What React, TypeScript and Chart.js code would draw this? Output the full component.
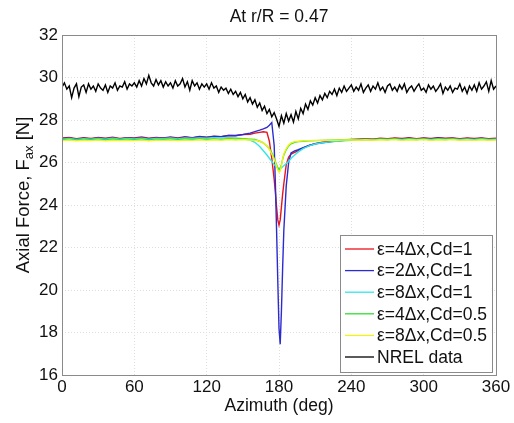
import React, { useEffect, useRef } from "react";
import { Chart, registerables } from "chart.js";

Chart.register(...registerables);

const TITLE = "At r/R = 0.47";
const X_LABEL = "Azimuth (deg)";
const Y_LABEL_MAIN = "Axial Force, F";
const Y_LABEL_SUB = "ax";
const Y_LABEL_END = " [N]";

const X_TICKS = [0, 60, 120, 180, 240, 300, 360];
const Y_TICKS = [16, 18, 20, 22, 24, 26, 28, 30, 32];

const SERIES_LABELS = [
  "ε=4Δx,Cd=1",
  "ε=2Δx,Cd=1",
  "ε=8Δx,Cd=1",
  "ε=4Δx,Cd=0.5",
  "ε=8Δx,Cd=0.5",
  "NREL data",
];
const SERIES_COLORS = ["#e8141c", "#2b2bd0", "#33e6e6", "#2fe02f", "#f2f21a", "#000000"];

const AZ_CFD = [
  0, 6, 12, 18, 24, 30, 36, 42, 48, 54, 60, 66, 72, 78, 84, 90, 96, 102, 108, 114, 120, 126, 132, 138, 144, 150, 156,
  160, 164, 167, 170, 172, 174, 176, 177, 178, 179, 180, 181, 182, 183, 184, 186, 188, 190, 193, 196, 200, 205, 210,
  216, 222, 228, 234, 240, 246, 252, 258, 264, 270, 276, 282, 288, 294, 300, 306, 312, 318, 324, 330, 336, 342, 348, 354, 360,
];

const EPS4_CD1 = [
  27.15, 27.18, 27.12, 27.17, 27.13, 27.18, 27.14, 27.19, 27.13, 27.17, 27.15, 27.2, 27.14, 27.18, 27.16, 27.2, 27.15, 27.21, 27.17, 27.22, 27.19, 27.24, 27.22, 27.27, 27.26, 27.31, 27.33,
  27.38, 27.42, 27.45, 27.42, 27.0, 26.2, 25.2, 24.6, 23.9, 23.3, 23.05, 23.3, 23.9, 24.5, 25.0, 25.9, 26.25, 26.4, 26.48, 26.56, 26.68, 26.8, 26.88,
  26.95, 26.98, 27.03, 27.05, 27.08, 27.1, 27.12, 27.1, 27.14, 27.12, 27.15, 27.13, 27.17, 27.12, 27.16, 27.13, 27.17, 27.14, 27.16, 27.12, 27.15, 27.13, 27.16, 27.12, 27.14,
];

const EPS2_CD1 = [
  27.12, 27.15, 27.1, 27.14, 27.11, 27.15, 27.12, 27.16, 27.11, 27.15, 27.13, 27.17, 27.12, 27.16, 27.14, 27.18, 27.13, 27.19, 27.16, 27.21, 27.18, 27.23, 27.22, 27.27, 27.27, 27.32, 27.38,
  27.45, 27.52, 27.58, 27.65, 27.75, 27.88, 26.8, 25.0, 22.8, 20.4, 18.2, 17.45, 19.0, 21.0, 22.8, 24.9, 26.0, 26.45, 26.55, 26.6, 26.7, 26.8, 26.88,
  26.93, 26.97, 27.01, 27.04, 27.07, 27.09, 27.1, 27.08, 27.12, 27.1, 27.13, 27.11, 27.14, 27.1, 27.14, 27.11, 27.15, 27.12, 27.14, 27.1, 27.13, 27.11, 27.14, 27.1, 27.12,
];

const EPS8_CD1 = [
  27.1, 27.13, 27.09, 27.12, 27.1, 27.13, 27.1, 27.14, 27.1, 27.13, 27.11, 27.14, 27.1, 27.13, 27.12, 27.15, 27.11, 27.15, 27.13, 27.16, 27.14, 27.17, 27.15, 27.17, 27.15, 27.12, 27.05,
  26.95, 26.75, 26.55, 26.35, 26.2, 26.05, 25.9, 25.85, 25.8, 25.75, 25.72, 25.72, 25.75, 25.8, 25.85, 25.95, 26.05, 26.2, 26.35, 26.5, 26.65, 26.78, 26.87,
  26.93, 26.97, 27.0, 27.02, 27.05, 27.07, 27.08, 27.07, 27.1, 27.08, 27.11, 27.09, 27.12, 27.08, 27.11, 27.09, 27.12, 27.1, 27.11, 27.08, 27.11, 27.09, 27.12, 27.08, 27.1,
];

const EPS4_CD05 = [
  27.07, 27.1, 27.06, 27.09, 27.07, 27.1, 27.06, 27.1, 27.07, 27.09, 27.07, 27.1, 27.06, 27.09, 27.08, 27.1, 27.07, 27.1, 27.08, 27.11, 27.08, 27.11, 27.09, 27.12, 27.1, 27.12, 27.1,
  27.08, 27.0, 26.92, 26.78, 26.65, 26.45, 26.2, 26.05, 25.9, 25.75, 25.65, 25.7, 25.9, 26.15, 26.35, 26.6, 26.78, 26.88, 26.95, 26.98, 27.0, 27.02, 27.03,
  27.04, 27.05, 27.06, 27.07, 27.08, 27.07, 27.09, 27.07, 27.1, 27.08, 27.1, 27.07, 27.1, 27.08, 27.1, 27.07, 27.1, 27.08, 27.1, 27.07, 27.09, 27.07, 27.1, 27.07, 27.09,
];

const EPS8_CD05 = [
  27.03, 27.06, 27.02, 27.05, 27.03, 27.06, 27.02, 27.05, 27.03, 27.05, 27.03, 27.06, 27.02, 27.05, 27.04, 27.06, 27.03, 27.06, 27.04, 27.07, 27.04, 27.07, 27.05, 27.08, 27.06, 27.08, 27.06,
  27.05, 27.0, 26.92, 26.78, 26.62, 26.4, 26.15, 26.0, 25.82, 25.65, 25.55, 25.6, 25.85, 26.15, 26.4, 26.65, 26.82, 26.92, 26.98, 27.0, 27.02, 27.03, 27.04,
  27.04, 27.05, 27.05, 27.06, 27.06, 27.05, 27.07, 27.05, 27.07, 27.06, 27.08, 27.05, 27.07, 27.06, 27.08, 27.05, 27.07, 27.06, 27.08, 27.05, 27.07, 27.05, 27.07, 27.05, 27.06,
];

const AZ_NREL = [
  0, 2, 4, 6, 8, 10, 12, 14, 16, 18,
  20, 22, 24, 26, 28, 30, 32, 34, 36, 38,
  40, 42, 44, 46, 48, 50, 52, 54, 56, 58,
  60, 62, 64, 66, 68, 70, 72, 74, 76, 78,
  80, 82, 84, 86, 88, 90, 92, 94, 96, 98,
  100, 102, 104, 106, 108, 110, 112, 114, 116, 118,
  120, 122, 124, 126, 128, 130, 132, 134, 136, 138,
  140, 142, 144, 146, 148, 150, 152, 154, 156, 158,
  160, 162, 164, 166, 168, 170, 172, 174, 176, 178,
  180, 182, 184, 186, 188, 190, 192, 194, 196, 198,
  200, 202, 204, 206, 208, 210, 212, 214, 216, 218,
  220, 222, 224, 226, 228, 230, 232, 234, 236, 238,
  240, 242, 244, 246, 248, 250, 252, 254, 256, 258,
  260, 262, 264, 266, 268, 270, 272, 274, 276, 278,
  280, 282, 284, 286, 288, 290, 292, 294, 296, 298,
  300, 302, 304, 306, 308, 310, 312, 314, 316, 318,
  320, 322, 324, 326, 328, 330, 332, 334, 336, 338,
  340, 342, 344, 346, 348, 350, 352, 354, 356, 358,
  360,
];

const NREL = [
  29.55, 29.75, 29.45, 29.6, 29.05, 29.5, 29.7, 29.1, 29.55, 29.65,
  29.3, 29.7, 29.45, 29.6, 29.35, 29.7, 29.5, 29.4, 29.65, 29.3,
  29.6, 29.5, 29.75, 29.4, 29.6, 29.55, 29.8, 29.45, 29.7, 29.6,
  29.75, 29.55, 29.85, 29.6, 29.95, 29.7, 30.1, 29.75, 29.6, 29.9,
  29.65, 29.85, 29.55, 29.8, 29.6, 29.75, 29.5, 29.85, 29.6, 29.7,
  29.95, 29.55, 29.8, 29.4, 29.85, 29.6, 29.75, 29.45, 29.7, 29.55,
  29.7, 29.45, 29.75, 29.5, 29.6, 29.3, 29.55, 29.4, 29.5, 29.25,
  29.45, 29.2, 29.35, 29.1, 29.3, 29.0, 29.2, 28.85, 29.05, 28.75,
  28.95, 28.6, 28.8, 28.45, 28.65, 28.3, 28.5, 28.15, 28.35, 28.05,
  27.7, 28.2, 27.85, 28.3, 27.95, 28.25, 27.9, 28.4, 28.05, 28.55,
  28.3, 28.75, 28.5, 28.9, 28.7, 29.05, 28.8, 29.15, 28.95, 29.25,
  29.05, 29.35, 29.2, 29.45, 29.15, 29.5, 29.3, 29.6, 29.35, 29.5,
  29.65, 29.35, 29.55, 29.4, 29.7, 29.3, 29.5, 29.65, 29.35, 29.6,
  29.45, 29.75, 29.4, 29.55, 29.3, 29.6, 29.7, 29.4, 29.55, 29.35,
  29.65, 29.45, 29.7, 29.3, 29.5, 29.6, 29.35, 29.55, 29.7, 29.4,
  29.5, 29.3, 29.65, 29.45, 29.6, 29.35, 29.5, 29.7, 29.25, 29.55,
  29.4, 29.6, 29.3, 29.5, 29.45, 29.7, 29.35, 29.55, 29.25, 29.6,
  29.4, 29.65, 29.35, 29.75, 29.45, 29.6, 29.8, 29.35, 29.85, 29.45,
  29.6,
];

const FONT = "'Liberation Sans', Arial, Helvetica, sans-serif";

function pts(xs: number[], ys: number[]) {
  return xs.map((x, i) => ({ x, y: ys[i] }));
}

const decorPlugin = {
  id: "decor",
  afterDatasetsDraw(chart: any) {
    const { ctx, chartArea: a } = chart;
    ctx.save();
    ctx.strokeStyle = "#8a8a8a";
    ctx.lineWidth = 1;
    ctx.strokeRect(Math.round(a.left) + 0.5, Math.round(a.top) + 0.5, Math.round(a.right - a.left), Math.round(a.bottom - a.top));
    ctx.restore();
  },
  afterDraw(chart: any) {
    const { ctx, chartArea: a } = chart;
    const cx = (a.left + a.right) / 2;
    ctx.save();
    ctx.fillStyle = "#111";
    ctx.textAlign = "center";
    ctx.textBaseline = "alphabetic";
    ctx.font = `17.5px ${FONT}`;
    ctx.fillText(TITLE, cx, 22);
    ctx.fillText(X_LABEL, cx, 411);

    // y label with subscript
    const mainFont = `18.5px ${FONT}`;
    const subFont = `13px ${FONT}`;
    ctx.font = mainFont;
    const w1 = ctx.measureText(Y_LABEL_MAIN).width;
    const w3 = ctx.measureText(Y_LABEL_END).width;
    ctx.font = subFont;
    const w2 = ctx.measureText(Y_LABEL_SUB).width;
    const total = w1 + w2 + w3;
    ctx.translate(29, 195);
    ctx.rotate(-Math.PI / 2);
    ctx.textAlign = "left";
    const x0 = -total / 2;
    ctx.font = mainFont;
    ctx.fillText(Y_LABEL_MAIN, x0, 0);
    ctx.font = subFont;
    ctx.fillText(Y_LABEL_SUB, x0 + w1, 4);
    ctx.font = mainFont;
    ctx.fillText(Y_LABEL_END, x0 + w1 + w2, 0);
    ctx.restore();

    // legend box
    ctx.save();
    const lx = 340.5, ly = 235.5, lw = 152, lh = 137;
    ctx.fillStyle = "#ffffff";
    ctx.fillRect(lx, ly, lw, lh);
    ctx.strokeStyle = "#8a8a8a";
    ctx.lineWidth = 1;
    ctx.strokeRect(lx, ly, lw, lh);
    ctx.font = `17.5px ${FONT}`;
    ctx.textAlign = "left";
    ctx.textBaseline = "middle";
    for (let i = 0; i < SERIES_LABELS.length; i++) {
      const y = 249 + i * 21.6;
      ctx.strokeStyle = SERIES_COLORS[i];
      ctx.lineWidth = 1.3;
      ctx.beginPath();
      ctx.moveTo(345, y);
      ctx.lineTo(374, y);
      ctx.stroke();
      ctx.fillStyle = "#111";
      ctx.fillText(SERIES_LABELS[i], 377, y + 1);
    }
    ctx.restore();
  },
};

export default function App() {
  const ref = useRef<HTMLCanvasElement | null>(null);
  useEffect(() => {
    if (!ref.current) return;
    const cfd = [EPS4_CD1, EPS2_CD1, EPS8_CD1, EPS4_CD05, EPS8_CD05];
    const orders = [5, 4, 3, 2, 1];
    const datasets: any[] = cfd.map((ys, i) => ({
      label: SERIES_LABELS[i],
      data: pts(AZ_CFD, ys),
      borderColor: SERIES_COLORS[i],
      backgroundColor: SERIES_COLORS[i],
      borderWidth: 1.4,
      pointRadius: 0,
      tension: 0,
      fill: false,
      order: orders[i],
    }));
    datasets.push({
      label: SERIES_LABELS[5],
      data: pts(AZ_NREL, NREL),
      borderColor: SERIES_COLORS[5],
      backgroundColor: SERIES_COLORS[5],
      borderWidth: 1.4,
      pointRadius: 0,
      tension: 0,
      fill: false,
      order: 0,
    });
    const chart = new Chart(ref.current, {
      type: "line",
      data: { datasets },
      options: {
        animation: false,
        responsive: false,
        devicePixelRatio: 1,
        layout: { padding: { top: 35, right: 18, left: 0, bottom: 0 } },
        plugins: { legend: { display: false }, title: { display: false }, tooltip: { enabled: false } },
        scales: {
          x: {
            type: "linear",
            min: 0,
            max: 360,
            afterBuildTicks: (s: any) => {
              s.ticks = X_TICKS.map((v) => ({ value: v }));
            },
            afterFit: (s: any) => {
              s.height = 48;
            },
            ticks: { color: "#111", font: { family: FONT, size: 17 }, padding: 2, maxRotation: 0, autoSkip: false },
            grid: { color: "#dedede", drawTicks: false, lineWidth: 1 },
            border: { display: false, dash: [1, 2] },
          },
          y: {
            type: "linear",
            min: 16,
            max: 32,
            afterBuildTicks: (s: any) => {
              s.ticks = Y_TICKS.map((v) => ({ value: v }));
            },
            afterFit: (s: any) => {
              s.width = 62;
            },
            ticks: { color: "#111", font: { family: FONT, size: 17 }, padding: 4 },
            grid: { color: "#dedede", drawTicks: false, lineWidth: 1 },
            border: { display: false, dash: [1, 2] },
          },
        },
      },
      plugins: [decorPlugin],
    });
    return () => chart.destroy();
  }, []);
  return (
    <div style={{ position: "fixed", left: 0, top: 0, width: 514, height: 423, background: "#fff" }}>
      <canvas ref={ref} width={514} height={423} style={{ display: "block" }} />
    </div>
  );
}
